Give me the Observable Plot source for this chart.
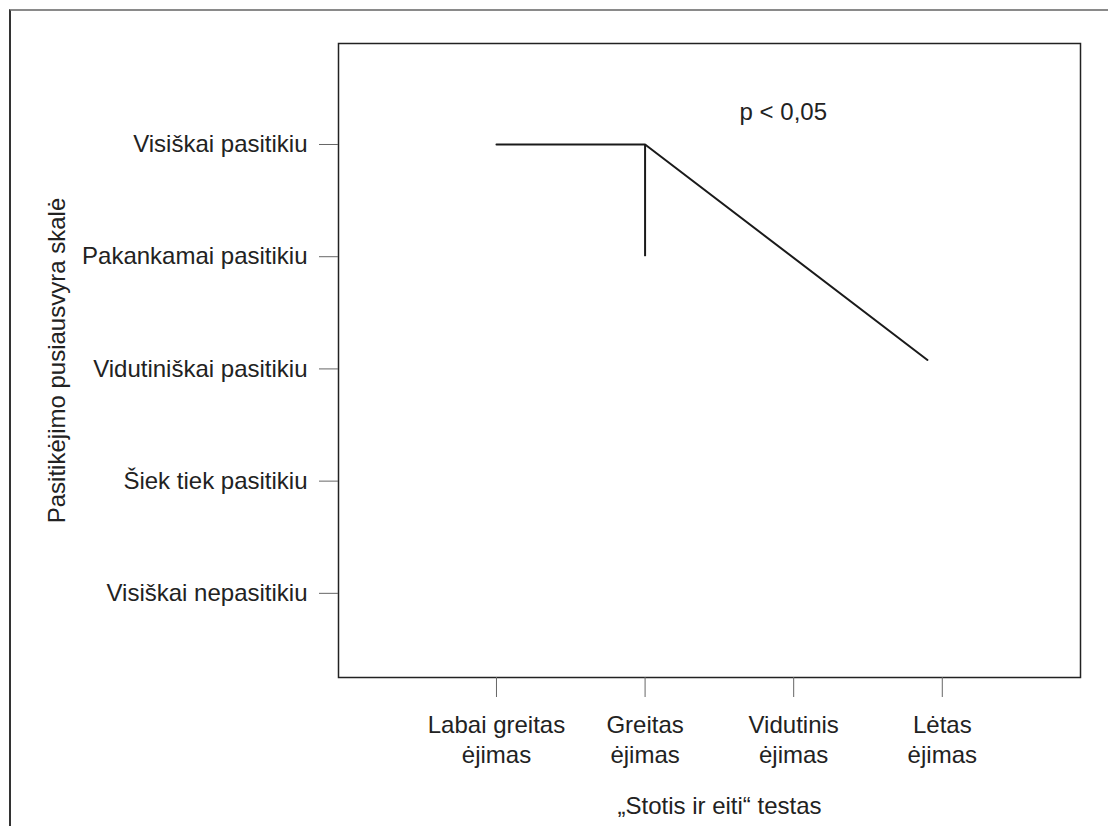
<!DOCTYPE html>
<html>
<head>
<meta charset="utf-8">
<script src="https://cdn.jsdelivr.net/npm/d3@7"></script>
<script src="https://cdn.jsdelivr.net/npm/@observablehq/plot@0.6"></script>
<style>
  html, body { margin: 0; padding: 0; background: #fff; }
  #wrap { position: relative; width: 1108px; height: 826px; overflow: hidden; }
  #border { position: absolute; left: 9px; top: 9px; width: 1200px; height: 1000px;
            border-top: 2px solid #8a8a8a; border-left: 2px solid #333; box-sizing: border-box; }
  #chart { position: absolute; left: 0; top: 0; }
</style>
</head>
<body>
<div id="wrap"><div id="border"></div><div id="chart"></div></div>
<script>
// Categories (x) and scale levels (y)
const xTicks = [1, 2, 3, 4];
const xLabels = ["Labai greitas\nėjimas", "Greitas\nėjimas", "Vidutinis\nėjimas", "Lėtas\nėjimas"];
const yTicks = [1, 2, 3, 4, 5];
const yLabels = ["Visiškai nepasitikiu", "Šiek tiek pasitikiu", "Vidutiniškai pasitikiu", "Pakankamai pasitikiu", "Visiškai pasitikiu"];

// Series: median line
const lineX = [1, 2, 3.9];
const lineY = [5, 5, 3.08];
// Vertical segment at "Greitas"
const segX = [2];
const segY1 = [4];
const segY2 = [5];

// Annotation
const annText = ["p < 0,05"];
const annX = [2.93];
const annY = [5.29];

const xTitle = "„Stotis ir eiti“ testas";
const yTitle = "Pasitikėjimo pusiausvyra skalė";

const lineData = lineX.map((x, i) => ({x, y: lineY[i]}));
const segData = segX.map((x, i) => ({x, y1: segY1[i], y2: segY2[i]}));
const annData = annText.map((t, i) => ({t, x: annX[i], y: annY[i]}));

const font = "'Liberation Sans', Arial, Helvetica, sans-serif";
const fs = 24;

const chart = Plot.plot({
  width: 1108,
  height: 826,
  marginLeft: 338,
  marginRight: 28,
  marginTop: 43,
  marginBottom: 149,
  style: {fontFamily: font, fontSize: fs + "px", color: "#222", background: "transparent"},
  x: {type: "linear", domain: [-0.063, 4.93]},
  y: {type: "linear", domain: [0.25, 5.9]},
  marks: [
    Plot.frame({stroke: "#222", strokeWidth: 1.5}),
    Plot.axisX({ticks: xTicks, tickFormat: d => xLabels[d - 1], tickSize: 20, tickPadding: 14,
                fontSize: fs, lineHeight: 1.25, label: null, stroke: "#666", fill: "#222"}),
    Plot.axisY({ticks: yTicks, tickFormat: d => yLabels[d - 1], tickSize: 19, tickPadding: 12,
                fontSize: fs, label: null, stroke: "#666", fill: "#222"}),
    Plot.line(lineData, {x: "x", y: "y", stroke: "#1a1a1a", strokeWidth: 2}),
    Plot.ruleX(segData, {x: "x", y1: "y1", y2: "y2", stroke: "#1a1a1a", strokeWidth: 2}),
    Plot.text(annData, {x: "x", y: "y", text: "t", fontSize: fs, fill: "#222"}),
    Plot.text([xTitle], {frameAnchor: "bottom", textAnchor: "middle", dx: 10, dy: 136, fontSize: fs, fill: "#222"}),
    Plot.text([yTitle], {frameAnchor: "left", textAnchor: "middle", lineAnchor: "middle", rotate: -90, dx: -281, fontSize: fs, fill: "#222"})
  ]
});
document.getElementById("chart").appendChild(chart);
</script>
</body>
</html>
